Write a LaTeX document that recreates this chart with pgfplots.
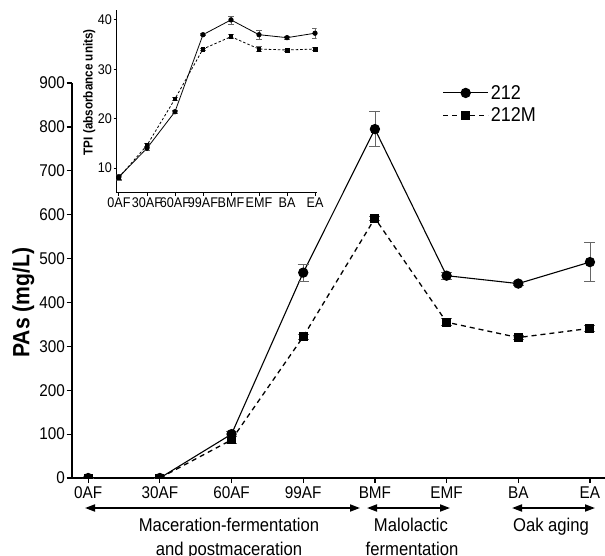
\documentclass[border=0pt]{standalone}
\usepackage{fontspec}
\setmainfont{Liberation Sans}[FakeStretch=0.9]
\usepackage{pgfplots}
\usepackage{pgfplotstable}
\pgfplotsset{compat=1.18}
\usetikzlibrary{arrows.meta}

% main plot: PAs (mg/L), value and error
\pgfplotstableread{
x y e
0 0 0
1 0 0
2 100 6
3 468 19
4 795 40
5 461 8
6 443 5
7 492 45
}\pasA
\pgfplotstableread{
x y e
0 0 0
1 0 0
2 87 7
3 322 6
4 592 4
5 355 8
6 320 4
7 341 6
}\pasM
% inset: TPI
\pgfplotstableread{
x y e
0 8.2 0.4
1 14.0 0.4
2 21.4 0.3
3 37.0 0.2
4 40.0 0.8
5 37.0 0.9
6 36.4 0.3
7 37.3 1.0
}\tpiA
\pgfplotstableread{
x y e
0 8.1 0.6
1 14.6 0.4
2 24.0 0.3
3 34.1 0.2
4 36.6 0.4
5 34.1 0.5
6 33.9 0.2
7 34.1 0.3
}\tpiM

\newcommand{\fs}[1]{\fontsize{#1}{1.2\dimexpr#1\relax}\selectfont}

\begin{document}
\begin{tikzpicture}
\begin{axis}[
    name=main,
    at={(71.7bp,-478bp)}, anchor=south west,
    scale only axis, width=533.3bp, height=395bp,
    axis lines=left, axis line style={-, line width=1.6bp},
    xmin=-0.23, xmax=7.21, ymin=0, ymax=900,
    xtick={0,...,7}, xticklabels={0AF,30AF,60AF,99AF,BMF,EMF,BA,EA},
    ytick={0,100,...,900},
    tick align=outside, major tick length=5bp,
    tick style={black, line width=1.2bp},
    tick label style={font=\fs{17bp}},
    /pgf/number format/assume math mode=true,
    yticklabel style={inner sep=1.5bp},
    ylabel={PAs (mg/L)},
    ylabel style={font=\fs{23.5bp}\bfseries},
    every axis y label/.append style={at={(ticklabel cs:0.444)}},
    clip marker paths=true,
    error bars/y dir=both, error bars/y explicit,
    error bars/error bar style={black!60, line width=0.7bp},
    error bars/error mark options={black!60, line width=0.7bp, mark size=5.5bp, rotate=90},
    reverse legend,
    legend style={draw=none, fill=none, at={(0.695,1.0)}, anchor=north west,
        font=\fs{20bp}, row sep=3bp, inner sep=0pt, cells={anchor=west}},
    legend image code/.code={\draw[#1, mark repeat=2, mark phase=2]
        plot coordinates {(0bp,0bp) (22.5bp,0bp) (45bp,0bp)};},
]
\addplot[black, line width=1.3bp, dash pattern=on 5bp off 4bp,
    mark=square*, mark size=3.8bp, mark options={solid}]
    table[x=x, y=y, y error=e] {\pasM};
\addplot[black, line width=1.1bp, mark=*, mark size=4.6bp]
    table[x=x, y=y, y error=e] {\pasA};
\legend{212M, 212}
\end{axis}

\begin{axis}[
    at={(116.7bp,-192.7bp)}, anchor=south west,
    scale only axis, width=200bp, height=182.7bp,
    axis lines=left, axis line style={-, line width=1.1bp},
    xmin=-0.08, xmax=7.06, ymin=5, ymax=42,
    xtick={0,...,7}, xticklabels={0AF,30AF,60AF,99AF,BMF,EMF,BA,EA},
    ytick={10,20,30,40},
    tick align=outside, major tick length=3bp,
    tick style={black, line width=0.9bp},
    tick label style={font=\fs{14bp}},
    /pgf/number format/assume math mode=true,
    yticklabel style={inner sep=1.5bp},
    xticklabel style={inner sep=2bp},
    ylabel={TPI (absorbance units)},
    ylabel style={font=\fs{13bp}\bfseries, inner sep=1bp},
    every axis y label/.append style={at={(ticklabel cs:0.55)}},
    error bars/y dir=both, error bars/y explicit,
    error bars/error bar style={black!60, line width=0.5bp},
    error bars/error mark options={black!60, line width=0.5bp, mark size=2.6bp, rotate=90},
]
\addplot[black, line width=0.8bp, dash pattern=on 2.5bp off 2bp,
    mark=square*, mark size=1.9bp, mark options={solid}]
    table[x=x, y=y, y error=e] {\tpiM};
\addplot[black, line width=0.8bp, mark=*, mark size=2.2bp]
    table[x=x, y=y, y error=e] {\tpiA};
\end{axis}

% stage annotations under the main x axis
\begin{scope}[line width=1.8bp, arrows={Triangle[length=10bp,width=7bp]-Triangle[length=10bp,width=7bp]}]
\draw (85bp,-508bp) -- (360bp,-508bp);
\draw (367bp,-508bp) -- (450bp,-508bp);
\draw (512bp,-508bp) -- (595bp,-508bp);
\end{scope}
\begin{scope}[every node/.style={font=\fs{18.5bp}, inner sep=0pt, anchor=base}]
\node at (229bp,-531.5bp) {Maceration-fermentation};
\node at (229bp,-555bp) {and postmaceration};
\node at (411bp,-531.5bp) {Malolactic};
\node at (412bp,-555bp) {fermentation};
\node at (551bp,-531.5bp) {Oak aging};
\end{scope}

\pgfresetboundingbox
\useasboundingbox (0bp,0bp) rectangle (605bp,-556bp);
\end{tikzpicture}
\end{document}
